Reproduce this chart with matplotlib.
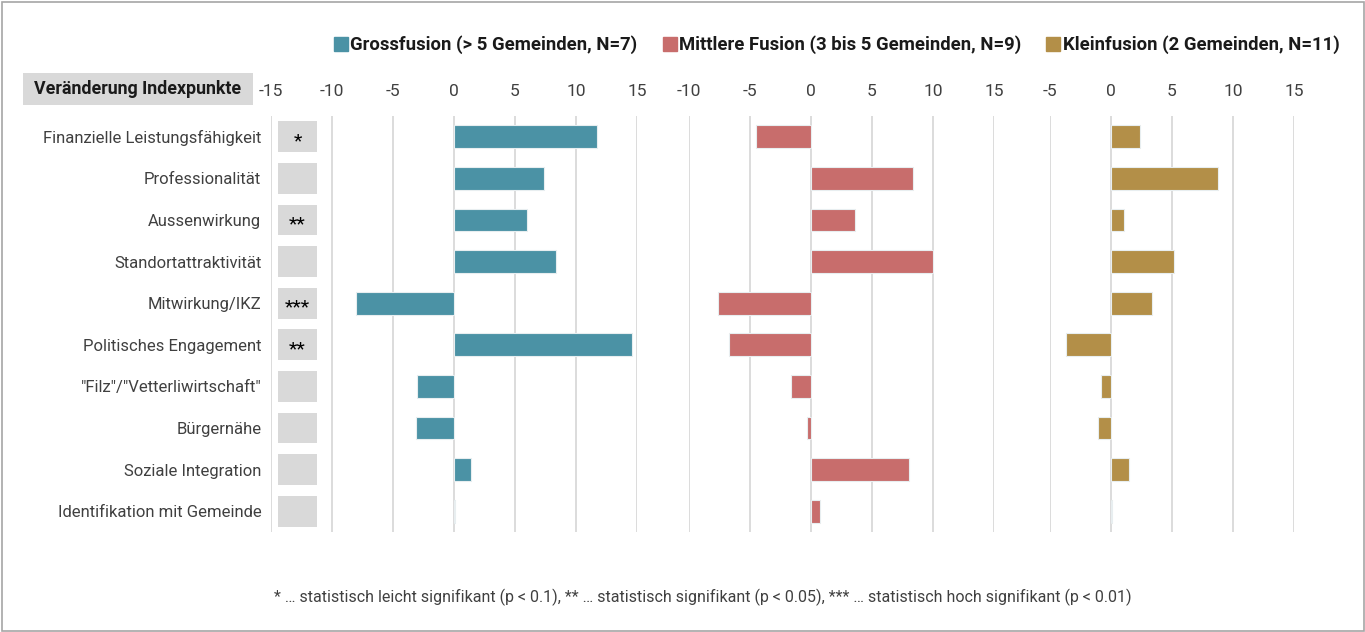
import matplotlib.pyplot as plt
from matplotlib.patches import Rectangle
from matplotlib.lines import Line2D

# Data
categories = [
    "Finanzielle Leistungsfähigkeit",
    "Professionalität",
    "Aussenwirkung",
    "Standortattraktivität",
    "Mitwirkung/IKZ",
    "Politisches Engagement",
    "\"Filz\"/\"Vetterliwirtschaft\"",
    "Bürgernähe",
    "Soziale Integration",
    "Identifikation mit Gemeinde",
]
significance = ["*", "", "**", "", "***", "**", "", "", "", ""]

gross = [11.7, 7.4, 6.0, 8.4, -8.0, 14.6, -3.0, -3.15, 1.4, 0.1]
mittel = [-4.5, 8.4, 3.6, 10.0, -7.6, -6.75, -1.65, -0.35, 8.05, 0.7]
klein = [2.4, 8.8, 1.05, 5.2, 3.35, -3.65, -0.8, -1.1, 1.5, 0.12]

series_labels = [
    "Grossfusion (> 5 Gemeinden, N=7)",
    "Mittlere Fusion (3 bis 5 Gemeinden, N=9)",
    "Kleinfusion (2 Gemeinden, N=11)",
]
colors = ["#4B92A5", "#C86D6C", "#B38F48"]
xlims = [(-15, 15), (-10, 15), (-5, 15)]

plt.rcParams['font.family'] = ['Roboto', 'DejaVu Sans']
plt.rcParams['axes.unicode_minus'] = False

W, H = 1365, 632
fig = plt.figure(figsize=(W / 100, H / 100), dpi=100)

# axes placement in pixels; common scale 12.2 px per unit
px_per_unit = 12.2
lefts = [271, 689, 1050]
top_px, bottom_px = 116, 532

axes = []
y = list(range(len(categories)))
for i, (vals, col, lim) in enumerate(zip([gross, mittel, klein], colors, xlims)):
    width_px = (lim[1] - lim[0]) * px_per_unit
    ax = fig.add_axes([lefts[i] / W, 1 - bottom_px / H,
                       width_px / W, (bottom_px - top_px) / H])
    ax.set_xlim(*lim)
    ax.set_ylim(len(categories) - 0.5, -0.5)
    ax.barh(y, vals, height=0.55, color=col, edgecolor="#e8eef0",
            linewidth=0.8, zorder=3)
    ax.set_xticks(range(lim[0], lim[1] + 1, 5))
    ax.xaxis.tick_top()
    ax.tick_params(axis="x", length=0, pad=12, labelsize=12.5, labelcolor="#404040")
    ax.grid(axis="x", color="#d9d9d9", linewidth=1.3, zorder=0)
    for s in ax.spines.values():
        s.set_visible(False)
    ax.set_yticks(y)
    if i == 0:
        ax.set_yticklabels(categories, fontsize=12, color="#404040")
        ax.tick_params(axis="y", length=0, pad=7)
    else:
        ax.set_yticklabels([])
        ax.tick_params(axis="y", length=0)
    axes.append(ax)

# significance boxes
ax0 = axes[0]
for k, sig in enumerate(significance):
    ax0.add_patch(Rectangle((-14.43, k - 0.37), 3.2, 0.74,
                            facecolor="#d9d9d9", edgecolor="none", zorder=2))
    if sig:
        ax0.text(-12.83, k + 0.1, sig, ha="center", va="center",
                 fontsize=14, color="black", zorder=4)

# header box
fig.add_artist(Rectangle((23 / W, 1 - 105 / H), 230 / W, 32 / H,
                         transform=fig.transFigure, facecolor="#d9d9d9",
                         edgecolor="none"))
fig.text(138 / W, 1 - 89 / H, "Veränderung Indexpunkte", ha="center",
         va="center", fontsize=12.8, fontweight="bold", color="#1a1a1a")

# legend
handles = [Line2D([], [], marker="s", linestyle="none", markersize=10,
                  markerfacecolor=c, markeredgecolor=c) for c in colors]
fig.legend(handles, series_labels, loc="center", ncol=3,
           bbox_to_anchor=(836 / W, 1 - 45 / H), frameon=False,
           prop={"size": 13.3, "weight": "bold"}, handletextpad=0.05,
           columnspacing=1.3, handlelength=0.9, labelcolor="#1a1a1a")

# footnote
fig.text(703 / W, 1 - 597 / H,
         "* … statistisch leicht signifikant (p < 0.1), ** … statistisch signifikant (p < 0.05), "
         "*** … statistisch hoch signifikant (p < 0.01)",
         ha="center", va="center", fontsize=11.5, color="#404040")

# outer frame
fig.add_artist(Rectangle((1.5 / W, 1.5 / H), (W - 3) / W, (H - 3) / H,
                         transform=fig.transFigure, facecolor="none",
                         edgecolor="#a6a6a6", linewidth=1.2))

fig.savefig("out.png", dpi=100)
